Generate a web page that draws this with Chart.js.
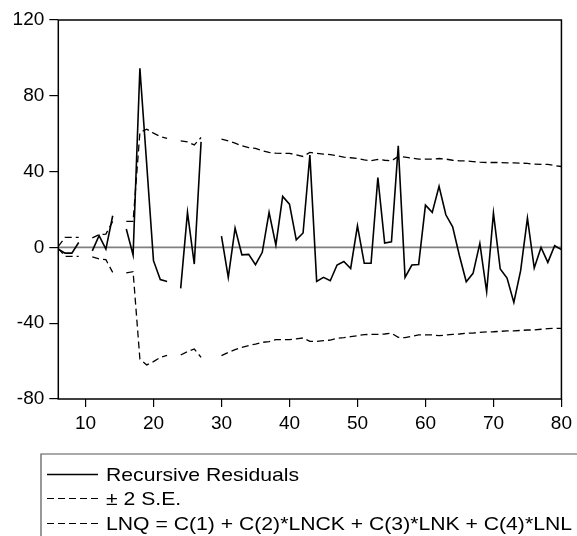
<!DOCTYPE html>
<html>
<head>
<meta charset="utf-8">
<script src="https://cdn.jsdelivr.net/npm/chart.js@4.4.1/dist/chart.umd.min.js"></script>
<style>
  html, body { margin: 0; padding: 0; background: #fff; }
  #wrap { width: 577px; height: 536px; }
</style>
</head>
<body>
<div id="wrap"><canvas id="resid" width="577" height="536"></canvas></div>
<script>
// observation index
var obs = [6, 7, 8, 9, 10, 11, 12, 13, 14, 15, 16, 17, 18, 19, 20, 21, 22, 23, 24, 25,
	26, 27, 28, 29, 30, 31, 32, 33, 34, 35, 36, 37, 38, 39, 40, 41, 42, 43, 44, 45,
	46, 47, 48, 49, 50, 51, 52, 53, 54, 55, 56, 57, 58, 59, 60, 61, 62, 63, 64, 65,
	66, 67, 68, 69, 70, 71, 72, 73, 74, 75, 76, 77, 78, 79, 80];

// recursive residuals (null = no value)
var residuals = [-1, -3, -3, 2.6, null, -1.8, 6.2, -0.9, 16.7, null, 9.7, -4, 94.5, 44, -7, -17, -18, null, -21.6, 18.5,
	-8.8, 55.7, null, null, 6, -15.8, 10.2, -3.9, -3.7, -9.1, -2.6, 18.5, 1.2, 26.9, 22.8, 4, 7.6, 48.7, -17.9, -15.8,
	-17.6, -9.3, -7.4, -11.1, 11.4, -8.4, -8.4, 36.9, 2.3, 3, 53.6, -15.8, -9.3, -9, 22.3, 18.5, 32.2, 17.2, 10.9, -4.4,
	-18.1, -13.7, 2.1, -23.4, 18.1, -11.4, -16.2, -29, -12.3, 15.5, -10.9, 0, -7.9, 0.9, -1.2];

// +2 S.E.
var upperSE = [0.5, 5.3, 5.3, 5.3, null, 5, 6.7, 7, 13.7, null, 13.7, 13.7, 60.6, 62.4, 60.3, 58.5, 57.5, null, 56.2, 55.7,
	54.1, 58, null, null, 57.1, 56.2, 55, 53.6, 52.7, 52.2, 51, 50.1, 49.7, 49.6, 49.6, 48.9, 48, 50.1, 49.7, 49.2,
	49, 48.3, 47.6, 47.3, 46.9, 46.2, 45.7, 46.4, 46, 45.7, 48, 47.6, 47.1, 46.6, 46.6, 46.6, 46.9, 46.6, 46, 45.7,
	45.7, 45.3, 45, 44.8, 44.8, 44.8, 44.6, 44.6, 44.5, 44.3, 43.9, 43.8, 43.8, 43.2, 42.7];

// -2 S.E.
var lowerSE = [-0.5, -4.7, -4.7, -4.7, null, -5, -6, -6.5, -13.2, null, -13.5, -12.8, -58.9, -62, -60.3, -58, -57, null, -56.8, -55,
	-53.6, -58, null, null, -57.1, -55.4, -54, -52.7, -51.8, -51, -50.1, -49.7, -48.7, -48.7, -48.7, -48.3, -47.8, -49.6, -49.6, -49.2,
	-48.9, -48, -47.6, -47.1, -46.6, -46, -45.9, -45.9, -45.7, -45.3, -47.5, -47.6, -46.9, -46.2, -46.2, -46.2, -46.6, -46.2, -45.9, -45.7,
	-45.3, -45.2, -44.8, -44.6, -44.5, -44.3, -44.1, -44.1, -43.8, -43.6, -43.6, -43.2, -42.9, -42.7, -42.7];

var xTicks = [10, 20, 30, 40, 50, 60, 70, 80];
var yTicks = [-80, -40, 0, 40, 80, 120];

var legendLabels = ["Recursive Residuals", "\u00B1 2 S.E.", "LNQ = C(1) + C(2)*LNCK + C(3)*LNK + C(4)*LNL"];

var FONT = "'Liberation Sans', Arial, sans-serif";

function toPoints(arr) {
	var pts = [];
	for (var i = 0; i < obs.length; i++) {
		pts.push({ x: obs[i], y: arr[i] });
	}
	return pts;
}

// frame, zero line and legend box
var framePlugin = {
	id: 'frame',
	beforeDatasetsDraw: function (chart) {
		var ctx = chart.ctx, a = chart.chartArea;
		var y0 = chart.scales.y.getPixelForValue(0);
		ctx.save();
		ctx.strokeStyle = '#808080';
		ctx.lineWidth = 1.6;
		ctx.beginPath();
		ctx.moveTo(a.left, y0);
		ctx.lineTo(a.right, y0);
		ctx.stroke();
		ctx.restore();
	},
	afterDraw: function (chart) {
		var ctx = chart.ctx, a = chart.chartArea;
		ctx.save();
		ctx.strokeStyle = '#000';
		ctx.lineWidth = 1.5;
		ctx.strokeRect(a.left, a.top, a.right - a.left, a.bottom - a.top);

		// legend
		ctx.lineWidth = 1.2;
		ctx.strokeStyle = '#555';
		ctx.beginPath();
		ctx.moveTo(41, 540);
		ctx.lineTo(41, 454);
		ctx.lineTo(580, 454);
		ctx.stroke();

		var rows = [474.5, 498.5, 523.5];
		ctx.font = '19px ' + FONT;
		ctx.fillStyle = '#000';
		ctx.textBaseline = 'middle';
		// the source text is a bit wider than the font, stretch it to fit
		var sx = 466 / ctx.measureText(legendLabels[2]).width;
		for (var i = 0; i < legendLabels.length; i++) {
			ctx.strokeStyle = '#000';
			ctx.lineWidth = i === 0 ? 1.5 : 1.2;
			ctx.setLineDash(i === 0 ? [] : [7, 4]);
			ctx.beginPath();
			ctx.moveTo(47, rows[i]);
			ctx.lineTo(98, rows[i]);
			ctx.stroke();
			ctx.setLineDash([]);
			ctx.save();
			ctx.translate(106, rows[i] + 1);
			ctx.scale(sx, 1);
			ctx.fillText(legendLabels[i], 0, 0);
			ctx.restore();
		}
		ctx.restore();
	}
};

var ctx = document.getElementById('resid').getContext('2d');

var residChart = new Chart(ctx, {
	type: 'line',
	data: {
		datasets: [
			{
				label: legendLabels[0],
				data: toPoints(residuals),
				borderColor: '#000',
				borderWidth: 1.6,
				pointRadius: 0,
				spanGaps: false,
				tension: 0
			},
			{
				label: legendLabels[1],
				data: toPoints(upperSE),
				borderColor: '#000',
				borderWidth: 1.3,
				borderDash: [7, 4],
				pointRadius: 0,
				spanGaps: false,
				tension: 0
			},
			{
				label: legendLabels[2],
				data: toPoints(lowerSE),
				borderColor: '#000',
				borderWidth: 1.3,
				borderDash: [7, 4],
				pointRadius: 0,
				spanGaps: false,
				tension: 0
			}
		]
	},
	options: {
		responsive: false,
		animation: false,
		layout: {
			padding: { left: 0, top: 20, right: 12.7, bottom: 97 }
		},
		plugins: {
			legend: { display: false },
			tooltip: { enabled: false }
		},
		scales: {
			x: {
				type: 'linear',
				min: 6,
				max: 80,
				afterBuildTicks: function (scale) {
					scale.ticks = xTicks.map(function (v) { return { value: v }; });
				},
				afterFit: function (scale) { scale.height = 40; },
				border: { display: false },
				grid: { drawOnChartArea: false, tickLength: 8, color: '#000', lineWidth: 1.2 },
				ticks: { color: '#000', padding: 5, maxRotation: 0, font: { family: FONT, size: 19 } }
			},
			y: {
				type: 'linear',
				min: -80,
				max: 120,
				afterBuildTicks: function (scale) {
					scale.ticks = yTicks.map(function (v) { return { value: v }; });
				},
				afterFit: function (scale) { scale.width = 58.3; },
				border: { display: false },
				grid: { drawOnChartArea: false, tickLength: 9, color: '#000', lineWidth: 1.2 },
				ticks: { color: '#000', padding: 5, font: { family: FONT, size: 19 } }
			}
		}
	},
	plugins: [framePlugin]
});
</script>
</body>
</html>
